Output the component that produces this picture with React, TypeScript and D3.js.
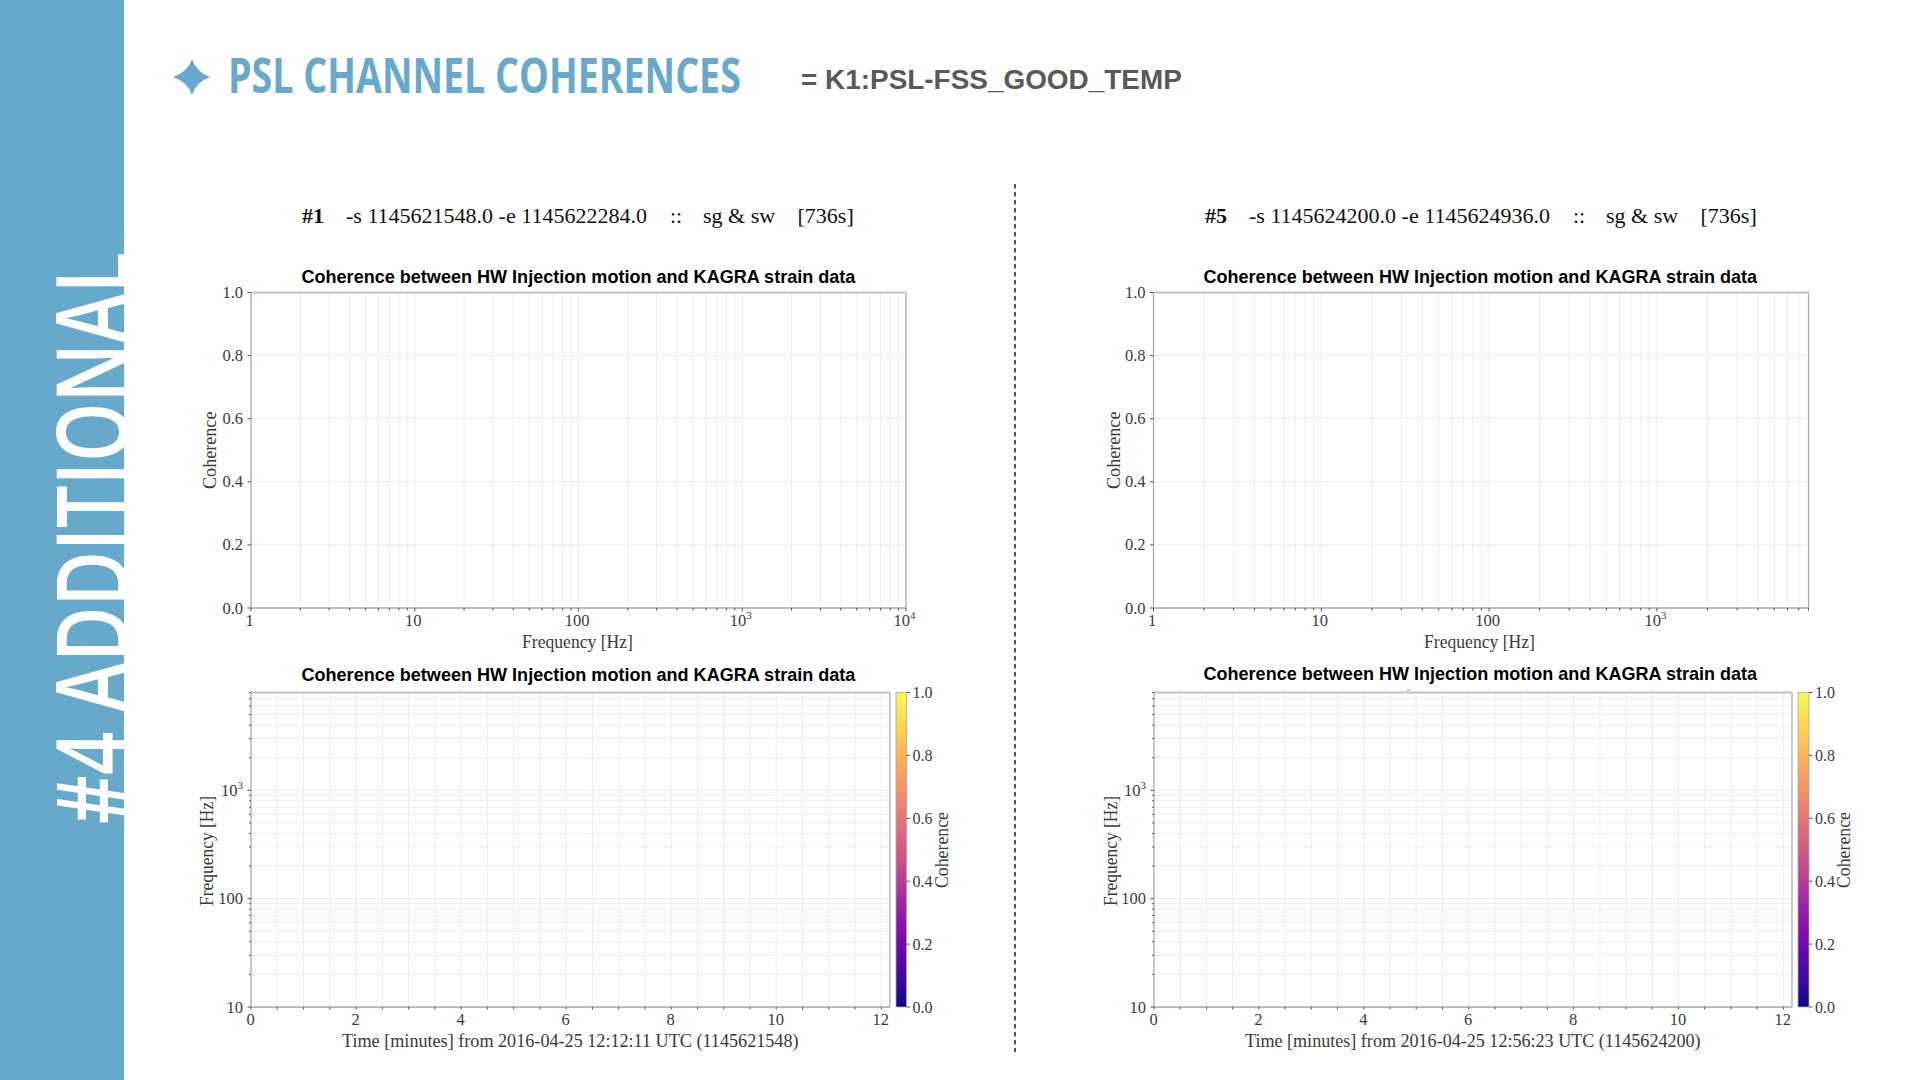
import React, { useLayoutEffect, useRef } from "react";
import * as d3 from "d3";

const slideTag = "#4 ADDITIONAL";
const slideTitle = "PSL CHANNEL COHERENCES";
const channelName = "= K1:PSL-FSS_GOOD_TEMP";
const panelTitle = "Coherence between HW Injection motion and KAGRA strain data";

const runIds = ["#1", "#5"];
const runRanges = ["-s 1145621548.0 -e 1145622284.0", "-s 1145624200.0 -e 1145624936.0"];
const timeLabels = [
  "Time [minutes] from 2016-04-25 12:12:11 UTC (1145621548)",
  "Time [minutes] from 2016-04-25 12:56:23 UTC (1145624200)",
];

// spectrum x axis runs to a different upper limit on each side
const spectrumFreqMax = [10000, 8000];
const spectrumFreqLabels = [
  [1, 10, 100, 1000, 10000],
  [1, 10, 100, 1000],
];
const coherenceTicks = [0, 0.2, 0.4, 0.6, 0.8, 1];
const specFreqRange = [10, 8000];
const specFreqLabels = [10, 100, 1000];
const minuteMax = 12.165;
const minuteTicks = [0, 2, 4, 6, 8, 10, 12];
const minuteGrid = d3.range(0, 12.5, 0.5);

const BLUE = "#66a9cb";
const GRID = "#eeeeee";
const SPINE = "#a8a8a8";
const INK = "#3a3a3a";
const TICK = "#555";
const SERIF = "'Liberation Serif', serif";
const SANS = "'Liberation Sans', sans-serif";
const HEAD = "'Open Sans', sans-serif";

const columns = [
  { dx: 0, top: [251, 906], bottom: [251, 890], bar: [896, 906.5], ylab: 216, ylab2: 213, xlab: [522, 633], time: [342, 799], cbText: 912.5, cbLab: 948, titleX: [301.5, 856], title2Y: 681 },
  { dx: 903, top: [1153.5, 1808.5], bottom: [1154, 1792], bar: [1798, 1809], ylab: 1120, ylab2: 1117, xlab: [1424, 1535], time: [1245, 1701], cbText: 1815, cbLab: 1850, titleX: [1203.5, 1757.5], title2Y: 680 },
];

const TOP_Y: [number, number] = [608, 292.5];
const BOT_Y: [number, number] = [1007, 692.5];

const logLabel = (v: number) =>
  v >= 1000 ? (
    <>
      10
      <tspan dy={-7} fontSize={11}>
        {Math.round(Math.log10(v))}
      </tspan>
    </>
  ) : (
    String(v)
  );

// squeezes a text horizontally so it covers x0..x1, the slide fonts are narrower than ours
function Fit({ x0, x1, y, size, family, weight, fill, children }: any) {
  const ref = useRef<SVGTextElement>(null);
  useLayoutEffect(() => {
    if (!ref.current) return;
    const sx = (x1 - x0) / ref.current.getComputedTextLength();
    ref.current.setAttribute("transform", `translate(${x0},${y}) scale(${sx},1)`);
  }, [x0, x1, y]);
  return (
    <text ref={ref} transform={`translate(${x0},${y})`} fontFamily={family} fontSize={size} fontWeight={weight} fill={fill}>
      {children}
    </text>
  );
}

function RotLabel({ x, y0, y1, text, size = 18, family = SERIF, weight, fill = INK }: any) {
  // rotated label, y0..y1 is the span on screen
  const ref = useRef<SVGTextElement>(null);
  useLayoutEffect(() => {
    if (!ref.current) return;
    const sx = (y1 - y0) / ref.current.getComputedTextLength();
    ref.current.setAttribute("transform", `translate(${x},${y1}) rotate(-90) scale(${sx},1)`);
  }, [x, y0, y1]);
  return (
    <text ref={ref} transform={`translate(${x},${y1}) rotate(-90)`} fontFamily={family} fontSize={size} fontWeight={weight} fill={fill}>
      {text}
    </text>
  );
}

function Frame({ x0, x1, y0, y1 }: any) {
  return (
    <>
      <path d={`M${x0},${y0}V${y1}H${x1}V${y0}`} fill="none" stroke={SPINE} strokeWidth={1.2} />
      <line x1={x0} x2={x1} y1={y0} y2={y0} stroke="#c2c2c2" strokeWidth={1.8} />
    </>
  );
}

function Spectrum({ col, i }: { col: (typeof columns)[0]; i: number }) {
  const x = d3.scaleLog().domain([1, spectrumFreqMax[i]]).range(col.top);
  const y = d3.scaleLinear().domain([0, 1]).range(TOP_Y);
  const minor = x.ticks();
  return (
    <g>
      {minor.map((f) => (
        <line key={f} x1={x(f)} x2={x(f)} y1={y(0)} y2={y(1)} stroke={GRID} />
      ))}
      {coherenceTicks.map((c) => (
        <line key={c} x1={x.range()[0]} x2={x.range()[1]} y1={y(c)} y2={y(c)} stroke={GRID} />
      ))}
      <Frame x0={col.top[0]} x1={col.top[1]} y0={y(1)} y1={y(0)} />
      <line x1={col.top[0]} x2={col.top[1]} y1={y(0)} y2={y(0)} stroke="#bdbdbd" strokeWidth={2} />
      {minor.map((f) => (
        <line key={f} x1={x(f)} x2={x(f)} y1={y(0)} y2={y(0) + (spectrumFreqLabels[i].includes(f) ? 3.5 : 2.5)} stroke={TICK} />
      ))}
      {coherenceTicks.map((c) => (
        <g key={c}>
          <line x1={col.top[0] - 3.5} x2={col.top[0]} y1={y(c)} y2={y(c)} stroke={TICK} />
          <text x={col.top[0] - 8} y={y(c) + 5.5} textAnchor="end" fontFamily={SERIF} fontSize={16.5} fill={INK}>
            {c.toFixed(1)}
          </text>
        </g>
      ))}
      {spectrumFreqLabels[i].map((f) => (
        <text key={f} x={x(f) - 1.5} y={626} textAnchor="middle" fontFamily={SERIF} fontSize={16.5} fill={INK}>
          {logLabel(f)}
        </text>
      ))}
      <Fit x0={col.xlab[0]} x1={col.xlab[1]} y={647.5} size={18} family={SERIF} fill={INK}>
        Frequency [Hz]
      </Fit>
      <RotLabel x={col.ylab} y0={411.5} y1={489} text="Coherence" />
    </g>
  );
}

function Spectrogram({ col, i }: { col: (typeof columns)[0]; i: number }) {
  const x = d3.scaleLinear().domain([0, minuteMax]).range(col.bottom);
  const y = d3.scaleLog().domain(specFreqRange).range(BOT_Y);
  const freqs = y.ticks();
  const cb = d3.scaleLinear().domain([0, 1]).range(BOT_Y);
  const gradId = `plasma-${i}`;
  const stops = d3.range(0, 1.01, 0.05);
  return (
    <g>
      <defs>
        <linearGradient id={gradId} x1="0" x2="0" y1="1" y2="0">
          {stops.map((s) => (
            // the yellow end of the bar is washed out in the original, the dark end is not
            <stop key={s} offset={s} stopColor={d3.interpolatePlasma(s)} stopOpacity={1 - 0.2 * s} />
          ))}
        </linearGradient>
      </defs>
      {minuteGrid.map((m) => (
        <line key={m} x1={x(m)} x2={x(m)} y1={BOT_Y[0]} y2={BOT_Y[1]} stroke={GRID} />
      ))}
      {freqs.map((f) => (
        <line key={f} x1={col.bottom[0]} x2={col.bottom[1]} y1={y(f)} y2={y(f)} stroke={GRID} />
      ))}
      <Frame x0={col.bottom[0]} x1={col.bottom[1]} y0={BOT_Y[1]} y1={BOT_Y[0]} />
      <line x1={col.bottom[0]} x2={col.bottom[1]} y1={BOT_Y[0]} y2={BOT_Y[0]} stroke="#bdbdbd" strokeWidth={2} />
      {minuteGrid.map((m) => (
        <line key={m} x1={x(m)} x2={x(m)} y1={BOT_Y[0]} y2={BOT_Y[0] + 2.5} stroke={TICK} />
      ))}
      {freqs.map((f) => (
        <line key={f} x1={col.bottom[0] - (specFreqLabels.includes(f) ? 3.5 : 2)} x2={col.bottom[0]} y1={y(f)} y2={y(f)} stroke={TICK} />
      ))}
      {specFreqLabels.map((f) => (
        <text key={f} x={col.bottom[0] - 8} y={y(f) + 5.5} textAnchor="end" fontFamily={SERIF} fontSize={16.5} fill={INK}>
          {logLabel(f)}
        </text>
      ))}
      {minuteTicks.map((m) => (
        <text key={m} x={x(m) - 0.5} y={1025} textAnchor="middle" fontFamily={SERIF} fontSize={16.5} fill={INK}>
          {m}
        </text>
      ))}
      <rect x={col.bar[0]} y={BOT_Y[1]} width={col.bar[1] - col.bar[0]} height={BOT_Y[0] - BOT_Y[1]} fill="#fff" />
      <rect x={col.bar[0]} y={BOT_Y[1]} width={col.bar[1] - col.bar[0]} height={BOT_Y[0] - BOT_Y[1]} fill={`url(#${gradId})`} stroke={SPINE} strokeWidth={0.8} />
      {coherenceTicks.map((c) => (
        <g key={c}>
          <line x1={col.bar[1]} x2={col.bar[1] + 3.5} y1={cb(c)} y2={cb(c)} stroke={TICK} />
          <text x={col.cbText} y={cb(c) + 5.5} fontFamily={SERIF} fontSize={16} fill={INK}>
            {c.toFixed(1)}
          </text>
        </g>
      ))}
      <Fit x0={col.time[0]} x1={col.time[1]} y={1046.5} size={18} family={SERIF} fill={INK}>
        {timeLabels[i]}
      </Fit>
      <RotLabel x={col.ylab2} y0={796} y1={906} text="Frequency [Hz]" />
      <RotLabel x={col.cbLab} y0={812} y1={888} text="Coherence" />
    </g>
  );
}

export default function App() {
  return (
    <svg width={1920} height={1080} viewBox="0 0 1920 1080" style={{ position: "fixed", left: 0, top: 0, background: "#fff" }}>
      <rect width={124} height={1080} fill={BLUE} />
      <RotLabel x={128} y0={252} y1={824} text={slideTag} size={100} family={HEAD} weight={600} fill="#fff" />

      <path d="M192,59Q196,72 210,77Q196,82 192,95Q188,82 173,77Q188,72 192,59Z" fill={BLUE} />
      <Fit x0={228} x1={741} y={93} size={49} family={HEAD} weight={700} fill={BLUE}>
        {slideTitle}
      </Fit>
      <Fit x0={801} x1={1182} y={88.5} size={27} family={SANS} weight={700} fill="#595959">
        {channelName}
      </Fit>

      <line x1={1015} x2={1015} y1={184} y2={1052} stroke="#555" strokeWidth={2} strokeDasharray="4.5 3.5" />

      {columns.map((col, i) => (
        <g key={i}>
          <g fontFamily={SERIF} fontSize={22} fill="#111">
            <text x={302 + col.dx} y={223} fontWeight={700}>{runIds[i]}</text>
            <Fit x0={346 + col.dx} x1={647 + col.dx} y={223} size={22} family={SERIF} fill="#111">{runRanges[i]}</Fit>
            <text x={670 + col.dx} y={223}>::</text>
            <text x={703 + col.dx} y={223}>sg &amp; sw</text>
            <text x={797.5 + col.dx} y={223}>[736s]</text>
          </g>
          <Fit x0={col.titleX[0]} x1={col.titleX[1]} y={283} size={18.5} family={SANS} weight={700} fill="#000">
            {panelTitle}
          </Fit>
          <Fit x0={col.titleX[0]} x1={col.titleX[1]} y={col.title2Y} size={18.5} family={SANS} weight={700} fill="#000">
            {panelTitle}
          </Fit>
          <Spectrum col={col} i={i} />
          <Spectrogram col={col} i={i} />
        </g>
      ))}
      <line x1={1406} x2={1411} y1={690} y2={690} stroke="#aaa" />
    </svg>
  );
}
